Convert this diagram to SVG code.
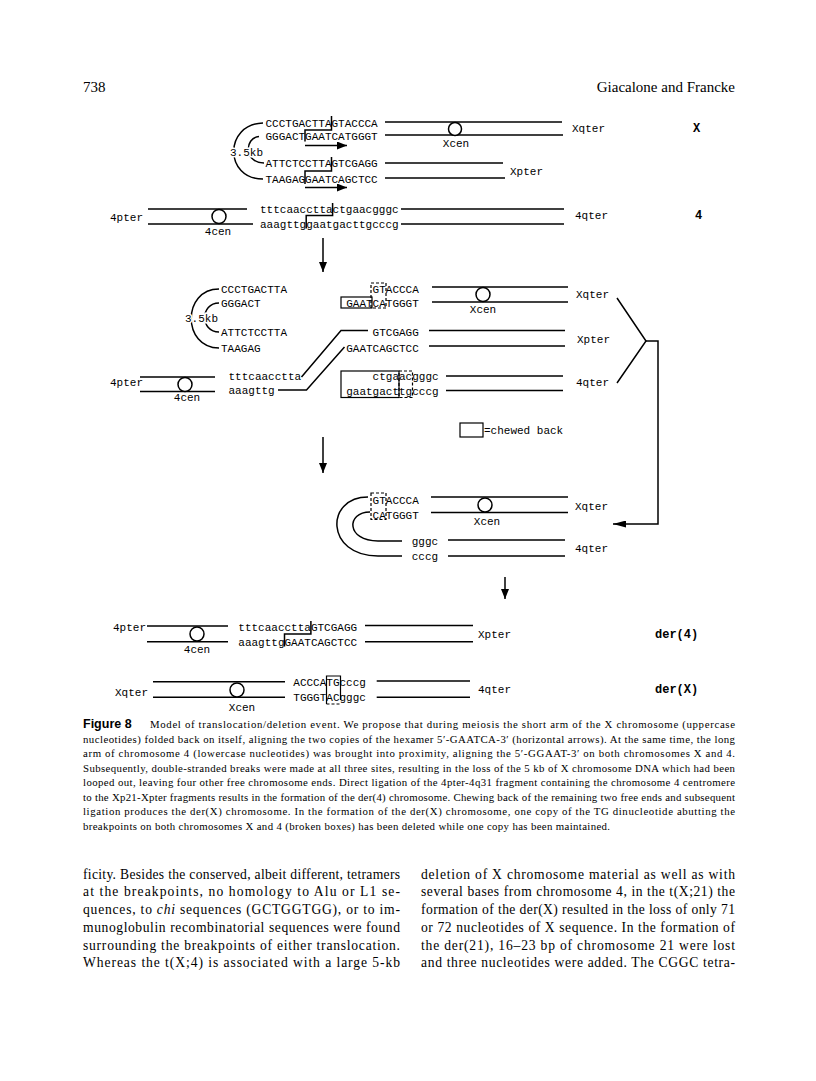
<svg xmlns="http://www.w3.org/2000/svg" width="816" height="1081" viewBox="0 0 816 1081">
<style>
.m{font-family:"Liberation Mono","DejaVu Sans Mono",monospace;font-size:11px;fill:#000}
.mb{font-family:"Liberation Mono","DejaVu Sans Mono",monospace;font-size:12px;font-weight:bold;fill:#000}
.ln{stroke:#000;stroke-width:1.5;fill:none}
.bx{stroke:#000;stroke-width:1.2;fill:none}
.dbx{stroke:#000;stroke-width:1.2;fill:none;stroke-dasharray:3 2}
.cen{stroke:#000;stroke-width:1.5;fill:#fff}
.halo{paint-order:stroke;stroke:#fff;stroke-width:3px}
.cap{font-family:"Liberation Serif","Times New Roman",serif;font-size:10.8px;fill:#000}
.body{font-family:"Liberation Serif","Times New Roman",serif;font-size:13.6px;fill:#000}
.hd{font-family:"Liberation Serif","Times New Roman",serif;font-size:15px;fill:#000}
</style>
<defs>
<marker id="ah" markerWidth="10" markerHeight="8" refX="10" refY="4" orient="auto" markerUnits="userSpaceOnUse"><path d="M0,0 L10,4 L0,8 z" fill="#000"/></marker>
<marker id="ahl" markerWidth="13" markerHeight="7" refX="13" refY="3.5" orient="auto" markerUnits="userSpaceOnUse"><path d="M0,0 L13,3.5 L0,7 z" fill="#000"/></marker>
</defs>
<rect width="816" height="1081" fill="#fff"/>

<g id="header">
<text class="hd" x="83" y="92">738</text>
<text class="hd" x="735" y="92" text-anchor="end">Giacalone and Francke</text>
</g>

<!-- Panel 1 -->
<g id="p1-x-loop">
<path class="ln" d="M263 123 C224 124 224 179 263 179"/>
<path class="ln" d="M259 136.5 C244 138 244 163 264 163"/>
<text class="m halo" x="230" y="156">3.5kb</text>
<text class="m" x="265.5" y="127">CCCTGACTTAGTACCCA</text>
<text class="m" x="265.5" y="140">GGGACTGAATCATGGGT</text>
<text class="m" x="265.5" y="167">ATTCTCCTTAGTCGAGG</text>
<text class="m" x="265.5" y="182.7">TAAGAGGAATCAGCTCC</text>
<path class="ln" d="M331.5 116 V130 H305 V141.5" stroke-width="1.3"/>
<path class="ln" d="M331.5 157 V171 H305 V184" stroke-width="1.3"/>
</g>
<g id="p1-xq">
<line class="ln" x1="385" y1="122" x2="562" y2="122"/>
<line class="ln" x1="385" y1="135" x2="563" y2="135"/>
<circle class="cen" cx="455" cy="129" r="6.5"/>
<text class="m" x="456" y="147" text-anchor="middle">Xcen</text>
<text class="m" x="572" y="132">Xqter</text>
<text class="mb" x="693" y="132">X</text>
</g>
<g id="p1-xp">
<line class="ln" x1="385" y1="163" x2="503" y2="163"/>
<line class="ln" x1="385" y1="178" x2="505" y2="178"/>
<text class="m" x="510" y="175">Xpter</text>
</g>
<g id="p1-chr4">
<line class="ln" x1="148" y1="209" x2="247" y2="209"/>
<line class="ln" x1="148" y1="224" x2="253" y2="224"/>
<circle class="cen" cx="219" cy="216.5" r="7"/>
<text class="m" x="110" y="221">4pter</text>
<text class="m" x="218" y="235" text-anchor="middle">4cen</text>
<text class="m" x="260" y="212.5">tttcaaccttactgaacgggc</text>
<text class="m" x="260" y="227.5">aaagttggaatgacttgcccg</text>
<path class="ln" d="M332.6 203 V215.5 H306.2 V228.5" stroke-width="1.3"/>
<line class="ln" x1="401" y1="209" x2="564" y2="209"/>
<line class="ln" x1="401" y1="224" x2="564" y2="224"/>
<text class="m" x="575" y="219">4qter</text>
<text class="mb" x="695" y="219">4</text>
</g>

<!-- Panel 2 -->
<g id="p2-x-loop">
<path class="ln" d="M219 289 C182 289 182 348 219 348"/>
<path class="ln" d="M219 303 C200 303 200 332 219 332"/>
<text class="m halo" x="185" y="322">3.5kb</text>
<text class="m" x="221" y="292.8">CCCTGACTTA</text>
<text class="m" x="221" y="306.8">GGGACT</text>
<text class="m" x="221" y="335.8">ATTCTCCTTA</text>
<text class="m" x="221" y="351.8">TAAGAG</text>
</g>
<g id="p2-xq">
<text class="m" x="372.6" y="293">GTACCCA</text>
<text class="m" x="346.2" y="307">GAATCATGGGT</text>
<rect class="bx" x="341" y="297" width="31" height="11"/>
<rect class="dbx" x="371" y="283" width="15" height="25"/>
<line class="ln" x1="432" y1="287" x2="568" y2="287"/>
<line class="ln" x1="432" y1="302" x2="568" y2="302"/>
<circle class="cen" cx="483" cy="294.5" r="7"/>
<text class="m" x="483" y="313" text-anchor="middle">Xcen</text>
<text class="m" x="576" y="298">Xqter</text>
</g>
<g id="p2-xp">
<text class="m" x="372.6" y="335.5">GTCGAGG</text>
<text class="m" x="346.2" y="351.5">GAATCAGCTCC</text>
<line class="ln" x1="429" y1="330.5" x2="565" y2="330.5"/>
<line class="ln" x1="429" y1="346" x2="565" y2="346"/>
<text class="m" x="577" y="343">Xpter</text>
</g>
<g id="p2-chr4p">
<line class="ln" x1="140" y1="377" x2="215" y2="377"/>
<line class="ln" x1="140" y1="391.5" x2="215" y2="391.5"/>
<circle class="cen" cx="185" cy="384.5" r="7"/>
<text class="m" x="110" y="386">4pter</text>
<text class="m" x="187" y="401" text-anchor="middle">4cen</text>
<text class="m" x="228.5" y="380">tttcaacctta</text>
<text class="m" x="228.5" y="394">aaagttg</text>
</g>
<g id="p2-chr4q">
<text class="m" x="372.6" y="380">ctgaacgggc</text>
<text class="m" x="346.2" y="394.5">gaatgacttgcccg</text>
<rect class="bx" x="341" y="371" width="58" height="26.5"/>
<rect class="dbx" x="399" y="371" width="13.5" height="26.5"/>
<line class="ln" x1="446" y1="376" x2="563" y2="376"/>
<line class="ln" x1="446" y1="390.5" x2="563" y2="390.5"/>
<text class="m" x="576" y="386">4qter</text>
</g>
<g id="legend">
<rect class="bx" x="460" y="423" width="23" height="14" stroke-width="1.4"/>
<text class="m" x="484" y="434">=chewed back</text>
</g>

<!-- Panel 3 -->
<g id="p3-xq">
<path class="ln" d="M368 497 C325 497 325 556 378 556 H402"/>
<path class="ln" d="M370 512 C346 512 346 541 378 541 H402"/>
<text class="m" x="372.6" y="503.8">GTACCCA</text>
<text class="m" x="372.6" y="518.8">CATGGGT</text>
<rect class="dbx" x="371" y="493" width="15" height="26.5"/>
<line class="ln" x1="431" y1="497" x2="568" y2="497"/>
<line class="ln" x1="431" y1="512.5" x2="568" y2="512.5"/>
<circle class="cen" cx="485" cy="505" r="7"/>
<text class="m" x="487" y="525" text-anchor="middle">Xcen</text>
<text class="m" x="575" y="510">Xqter</text>
</g>
<g id="p3-chr4q">
<text class="m" x="411.7" y="544.5">gggc</text>
<text class="m" x="411.7" y="560">cccg</text>
<line class="ln" x1="448" y1="540" x2="565" y2="540"/>
<line class="ln" x1="448" y1="556" x2="565" y2="556"/>
<text class="m" x="575" y="552">4qter</text>
</g>

<!-- Panel 4 -->
<g id="der4">
<text class="m" x="113" y="630.5">4pter</text>
<line class="ln" x1="147" y1="626" x2="228" y2="626"/>
<line class="ln" x1="147" y1="641.7" x2="228" y2="641.7"/>
<circle class="cen" cx="197" cy="634" r="7"/>
<text class="m" x="197" y="653" text-anchor="middle">4cen</text>
<text class="m" x="238.3" y="630.5">tttcaaccttaGTCGAGG</text>
<text class="m" x="238.3" y="645.5">aaagttgGAATCAGCTCC</text>
<path class="ln" d="M310.9 621 V634 H284.5 V646.5" stroke-width="1.3"/>
<line class="ln" x1="365" y1="625.5" x2="473" y2="625.5"/>
<line class="ln" x1="365" y1="641.7" x2="473" y2="641.7"/>
<text class="m" x="478" y="638">Xpter</text>
<text class="mb" x="655" y="638">der(4)</text>
</g>
<g id="derX">
<text class="m" x="115" y="695.5">Xqter</text>
<line class="ln" x1="153" y1="681.7" x2="285" y2="681.7"/>
<line class="ln" x1="153" y1="697.3" x2="285" y2="697.3"/>
<circle class="cen" cx="237" cy="690" r="7"/>
<text class="m" x="242" y="710.5" text-anchor="middle">Xcen</text>
<text class="m" x="293.3" y="685.5">ACCCATGcccg</text>
<text class="m" x="293.3" y="701">TGGGTACgggc</text>
<path class="bx" d="M326.5 704 V676 H340.5 V700"/>
<line class="dbx" x1="326.5" y1="704" x2="340.5" y2="704"/>
<line class="ln" x1="376.7" y1="681" x2="470" y2="681"/>
<line class="ln" x1="376.7" y1="697.3" x2="470" y2="697.3"/>
<text class="m" x="478" y="693">4qter</text>
<text class="mb" x="655" y="693">der(X)</text>
</g>

<g id="connectors">
<line class="ln" x1="305" y1="145.5" x2="347" y2="145.5" marker-end="url(#ah)"/>
<line class="ln" x1="305" y1="187.5" x2="347" y2="187.5" marker-end="url(#ah)"/>
<line class="ln" x1="323" y1="238" x2="323" y2="272" marker-end="url(#ah)"/>
<path class="ln" d="M301.5 377 L341 330.5 H368"/>
<path class="ln" d="M278 390 H306.5 L344.5 347"/>
<path class="ln" d="M617 298 L646 341 L617 383"/>
<path class="ln" d="M646 341 H658 V524 H613" marker-end="url(#ahl)"/>
<line class="ln" x1="323" y1="437" x2="323" y2="473" marker-end="url(#ah)"/>
<line class="ln" x1="505" y1="577" x2="505" y2="599" marker-end="url(#ah)"/>
</g>

<g id="caption">
<text x="83" y="728" style="font-family:'Liberation Sans',Arial,sans-serif;font-size:12.5px;font-weight:bold">Figure 8</text>
<text class="cap" x="150" y="728" textLength="585" lengthAdjust="spacing">Model of translocation/deletion event. We propose that during meiosis the short arm of the X chromosome (uppercase</text>
<text class="cap" x="83" y="742.5" textLength="652" lengthAdjust="spacing">nucleotides) folded back on itself, aligning the two copies of the hexamer 5′-GAATCA-3′ (horizontal arrows). At the same time, the long</text>
<text class="cap" x="83" y="757" textLength="652" lengthAdjust="spacing">arm of chromosome 4 (lowercase nucleotides) was brought into proximity, aligning the 5′-GGAAT-3′ on both chromosomes X and 4.</text>
<text class="cap" x="83" y="771.5" textLength="652" lengthAdjust="spacing">Subsequently, double-stranded breaks were made at all three sites, resulting in the loss of the 5 kb of X chromosome DNA which had been</text>
<text class="cap" x="83" y="786" textLength="652" lengthAdjust="spacing">looped out, leaving four other free chromosome ends. Direct ligation of the 4pter-4q31 fragment containing the chromosome 4 centromere</text>
<text class="cap" x="83" y="800.5" textLength="652" lengthAdjust="spacing">to the Xp21-Xpter fragments results in the formation of the der(4) chromosome. Chewing back of the remaining two free ends and subsequent</text>
<text class="cap" x="83" y="815" textLength="652" lengthAdjust="spacing">ligation produces the der(X) chromosome. In the formation of the der(X) chromosome, one copy of the TG dinucleotide abutting the</text>
<text class="cap" x="83" y="829.5" textLength="527" lengthAdjust="spacing">breakpoints on both chromosomes X and 4 (broken boxes) has been deleted while one copy has been maintained.</text>
</g>

<g id="body-text">
<text class="body" x="83" y="878.5" textLength="317" lengthAdjust="spacing">ficity. Besides the conserved, albeit different, tetramers</text>
<text class="body" x="83" y="896.3" textLength="317" lengthAdjust="spacing">at the breakpoints, no homology to Alu or L1 se-</text>
<text class="body" x="83" y="914" textLength="317" lengthAdjust="spacing">quences, to <tspan font-style="italic">chi</tspan> sequences (GCTGGTGG), or to im-</text>
<text class="body" x="83" y="931.8" textLength="317" lengthAdjust="spacing">munoglobulin recombinatorial sequences were found</text>
<text class="body" x="83" y="949.6" textLength="317" lengthAdjust="spacing">surrounding the breakpoints of either translocation.</text>
<text class="body" x="83" y="967.4" textLength="317" lengthAdjust="spacing">Whereas the t(X;4) is associated with a large 5-kb</text>
<text class="body" x="421" y="878.5" textLength="314" lengthAdjust="spacing">deletion of X chromosome material as well as with</text>
<text class="body" x="421" y="896.3" textLength="314" lengthAdjust="spacing">several bases from chromosome 4, in the t(X;21) the</text>
<text class="body" x="421" y="914" textLength="314" lengthAdjust="spacing">formation of the der(X) resulted in the loss of only 71</text>
<text class="body" x="421" y="931.8" textLength="314" lengthAdjust="spacing">or 72 nucleotides of X sequence. In the formation of</text>
<text class="body" x="421" y="949.6" textLength="314" lengthAdjust="spacing">the der(21), 16–23 bp of chromosome 21 were lost</text>
<text class="body" x="421" y="967.4" textLength="314" lengthAdjust="spacing">and three nucleotides were added. The CGGC tetra-</text>
</g>
</svg>
